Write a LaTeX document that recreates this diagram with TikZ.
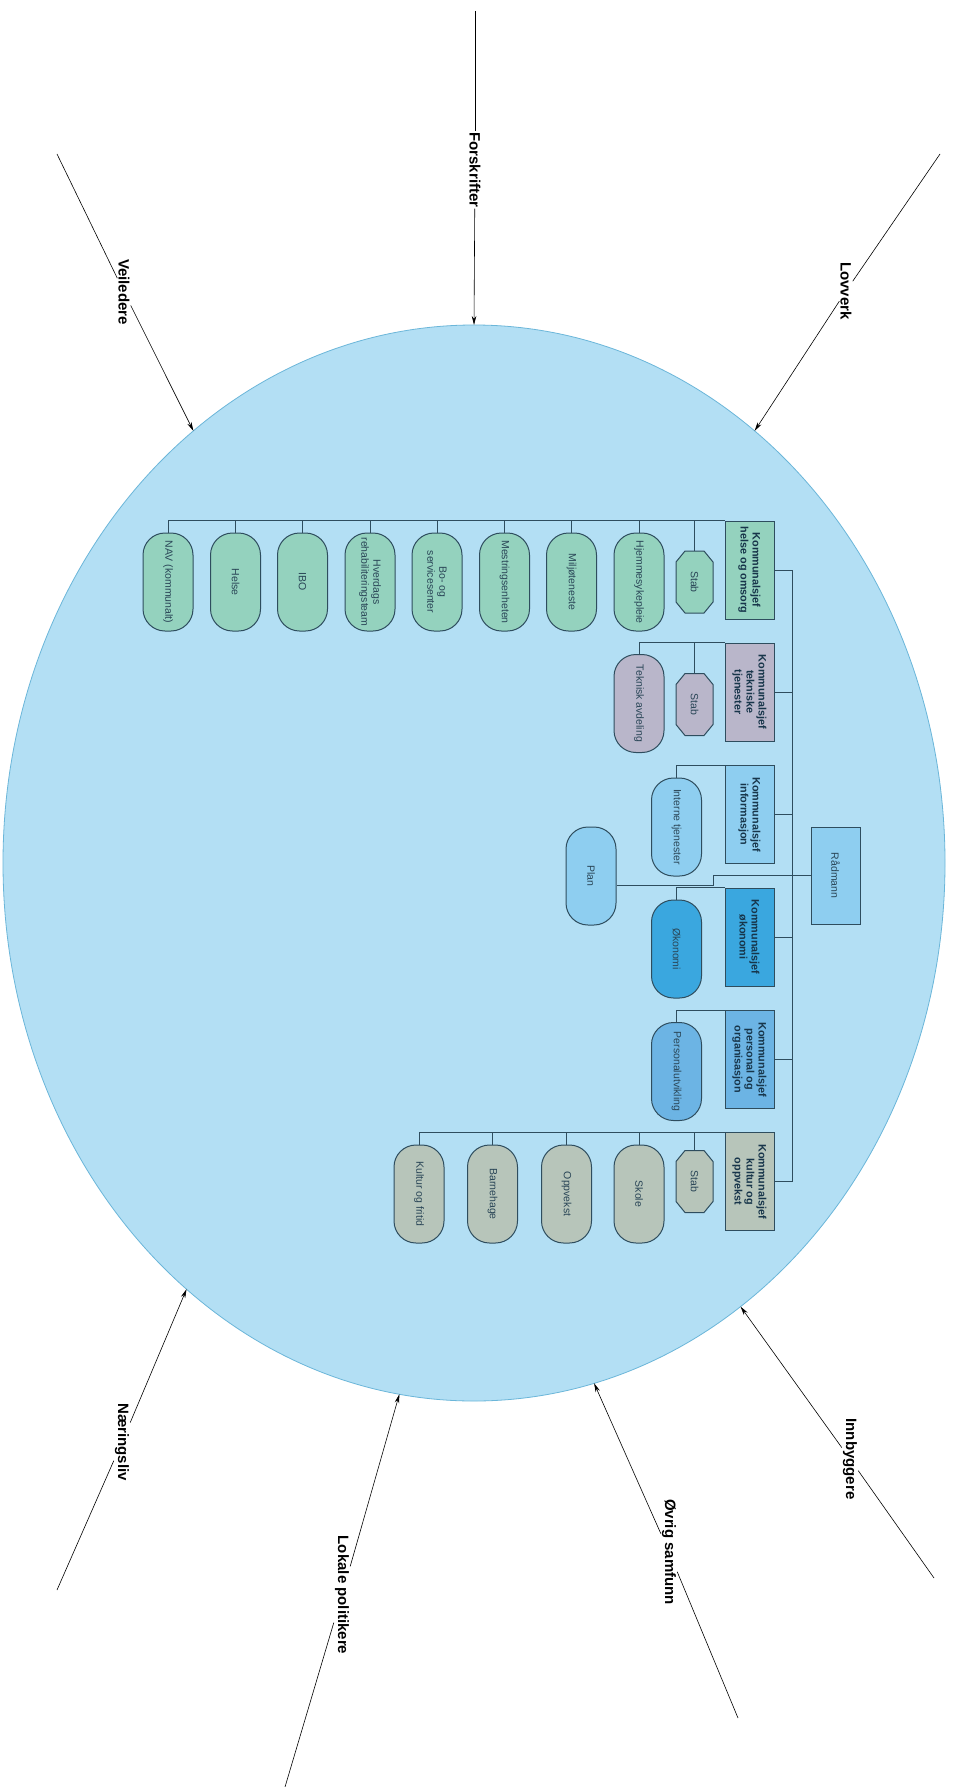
\documentclass[tikz,border=0pt]{standalone}
\usepackage{fontspec}
\setmainfont{Liberation Sans}
\usetikzlibrary{shapes.geometric,arrows.meta,calc}
\definecolor{ellF}{HTML}{B3DFF4}
\definecolor{ellD}{HTML}{6BB6D9}
\definecolor{lineC}{HTML}{2E4D5E}
\definecolor{txtC}{HTML}{2A4657}
\definecolor{boxT}{HTML}{17354A}
\definecolor{cGreen}{HTML}{94D2BE}
\definecolor{cPurp}{HTML}{B9B6CA}
\definecolor{cLight}{HTML}{8ECEF0}
\definecolor{cDark}{HTML}{3AA7DF}
\definecolor{cMid}{HTML}{6CB4E4}
\definecolor{cGray}{HTML}{B7C5BA}
\newcommand\octashape[2]{\filldraw[conn, fill=#2] ($(#1)+(-9.5,-31)$) -- ++(19,0) -- ++(9,11) -- ++(0,40) -- ++(-9,11) -- ++(-19,0) -- ++(-9,-11) -- ++(0,-40) -- cycle;}
\begin{document}
\begin{tikzpicture}[x=1pt,y=-1pt,
  base/.style={rotate=-90, draw=lineC, line width=1pt, inner sep=2pt, text=txtC, align=center,
    font=\fontsize{10.5}{12}\selectfont},
  chief/.style={base, rectangle, minimum width=98pt, minimum height=49pt, text=boxT,
    font=\bfseries\fontsize{10.8}{12}\selectfont},
  unit/.style={base, rectangle, rounded corners=22pt, minimum width=98pt, minimum height=50pt},
  stabnode/.style={rotate=-90, inner sep=0pt, minimum width=62pt, minimum height=37pt, text=txtC,
    font=\fontsize{10.5}{12}\selectfont},
  conn/.style={draw=lineC, line width=1pt},
  flow/.style={draw=black, line width=0.6pt},
  arr/.style={flow, -{Stealth[length=9pt,width=4.5pt]}},
  lab/.style={rotate=-90, font=\bfseries\fontsize{15}{17}\selectfont, inner sep=1pt}]
\fill[white] (0,0) rectangle (955,1787);
\useasboundingbox (0,0) rectangle (955,1787);
\node[ellipse, draw=ellD, fill=ellF, line width=0.8pt, minimum width=942pt, minimum height=1076pt, inner sep=0pt, outer sep=0pt] (ell) at (474,863) {};

% ---- Helse og omsorg
\node[chief, fill=cGreen] (hel) at (749.5,570) {Kommunalsjef\\helse og omsorg};
\coordinate (s1c) at (694.5,582);
\octashape{s1c}{cGreen}
\node[stabnode] (s1) at (s1c) {Stab};
\node[unit, fill=cGreen] (h8) at (639,582) {Hjemmesykepleie};
\node[unit, fill=cGreen] (h7) at (571.5,582) {Miljøteneste};
\node[unit, fill=cGreen] (h6) at (504.5,582) {Mestringsenheten};
\node[unit, fill=cGreen] (h5) at (437,582) {Bo- og\\servicesenter};
\node[unit, fill=cGreen] (h4) at (370,582) {Hverdags\\rehabiliteringsteam};
\node[unit, fill=cGreen] (h3) at (302.5,582) {IBO};
\node[unit, fill=cGreen] (h2) at (235.5,582) {Helse};
\node[unit, fill=cGreen] (h1) at (168,582) {NAV (kommunalt)};

% ---- Tekniske tjenester
\node[chief, fill=cPurp] (tek) at (749.5,692) {Kommunalsjef\\tekniske\\tjenester};
\coordinate (s2c) at (694.5,704.5);
\octashape{s2c}{cPurp}
\node[stabnode] (s2) at (s2c) {Stab};
\node[unit, fill=cPurp] (tav) at (639,703.5) {Teknisk avdeling};

% ---- Informasjon
\node[chief, fill=cLight] (inf) at (749.5,814.5) {Kommunalsjef\\informasjon};
\node[unit, fill=cLight] (int) at (676.5,827) {Interne tjenester};

% ---- Rådmann and Plan
\node[base, rectangle, fill=cLight, minimum width=97pt, minimum height=49pt] (rad) at (835.5,875.5) {Rådmann};
\node[unit, fill=cLight] (plan) at (591,876) {Plan};

% ---- Økonomi
\node[chief, fill=cDark] (oko) at (749.5,937) {Kommunalsjef\\økonomi};
\node[unit, fill=cDark] (okn) at (676.5,949) {Økonomi};

% ---- Personal
\node[chief, fill=cMid] (per) at (749.5,1059.5) {Kommunalsjef\\personal og\\organisasjon};
\node[unit, fill=cMid] (pu) at (676.5,1071.5) {Personalutvikling};

% ---- Kultur og oppvekst
\node[chief, fill=cGray] (kul) at (749.5,1181.5) {Kommunalsjef\\kultur og\\oppvekst};
\coordinate (s3c) at (694.5,1181.5);
\octashape{s3c}{cGray}
\node[stabnode] (s3) at (s3c) {Stab};
\node[unit, fill=cGray] (k4) at (639,1194) {Skole};
\node[unit, fill=cGray] (k3) at (566.5,1194) {Oppvekst};
\node[unit, fill=cGray] (k2) at (492.5,1194) {Barnehage};
\node[unit, fill=cGray] (k1) at (419,1194) {Kultur og fritid};

% ---- bus
\coordinate (busT) at (792,570);
\coordinate (busB) at (792,1181.5);
\draw[conn] (busT) -- (busB);
\foreach \b in {hel,tek,inf,oko,per,kul} \draw[conn] (\b.north) -- (\b.north -| busT);

% ---- helse children
\draw[conn] (hel.south west) -- (hel.south west -| h1.west);
\foreach \c in {s1,h1,h2,h3,h4,h5,h6,h7,h8} \draw[conn] (\c.west) -- (\c.west |- hel.south west);

% ---- teknisk
\draw[conn] (tek.south west) -| (tav.west);
\draw[conn] (s2.west) -- (s2.west |- tek.south west);

% ---- informasjon, okonomi, personal
\draw[conn] (inf.south west) -| (int.west);
\draw[conn] (oko.south west) -| (okn.west);
\draw[conn] (per.south west) -| (pu.west);

% ---- kultur children
\draw[conn] (kul.south west) -- (kul.south west -| k1.west);
\foreach \c in {s3,k1,k2,k3,k4} \draw[conn] (\c.west) -- (\c.west |- kul.south west);

% ---- Plan
\coordinate (pj) at (713,885);
\draw[conn] (rad.south) -| (pj) -- (pj -| plan.north);

% ---- outside influences
\coordinate (F0) at (475,11);
\node[lab] (F) at (475,170) {Forskrifter};
\draw[flow] (F0) -- (F);
\draw[arr] (F) -- (ell.90);

\coordinate (L0) at (940,154);
\node[lab] (L) at (846,291) {Lovverk};
\draw[flow] (L0) -- (L);
\draw[arr] (L) -- (ell.57.5);

\coordinate (V0) at (57,154);
\node[lab] (V) at (124,292) {Veiledere};
\draw[flow] (V0) -- (V);
\draw[arr] (V) -- (ell.123.2);

\coordinate (N0) at (57,1590);
\node[lab] (N) at (122,1442) {Næringsliv};
\draw[flow] (N0) -- (N);
\draw[arr] (N) -- (ell.236.2);

\coordinate (P0) at (285,1787);
\node[lab] (P) at (342,1595) {Lokale politikere};
\draw[flow] (P0) -- (P);
\draw[arr] (P) -- (ell.262.2);

\coordinate (O0) at (738,1718);
\node[lab] (O) at (669,1552) {Øvrig samfunn};
\draw[flow] (O0) -- (O);
\draw[arr] (O) -- (ell.283.4);

\coordinate (I0) at (934,1578);
\node[lab] (I) at (850,1459) {Innbyggere};
\draw[flow] (I0) -- (I);
\draw[arr] (I) -- (ell.301.2);
\end{tikzpicture}
\end{document}
